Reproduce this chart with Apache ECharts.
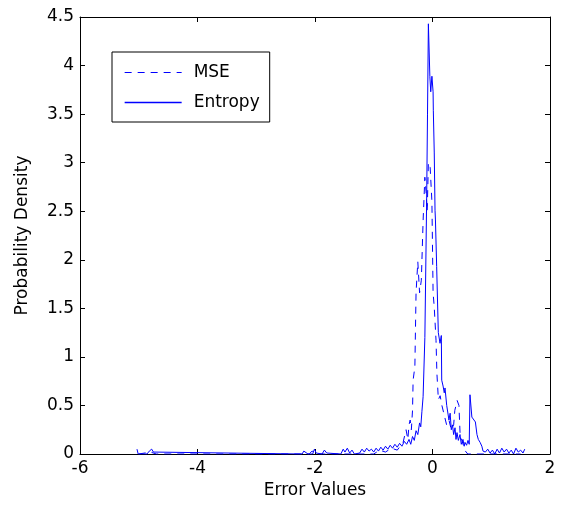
<!DOCTYPE html>
<html>
<head>
<meta charset="utf-8">
<script src="https://cdn.jsdelivr.net/npm/echarts@6/dist/echarts.min.js"></script>
<style>html,body{margin:0;padding:0;background:#fff;}#c{width:561px;height:510px;}</style>
</head>
<body>
<div id="c"></div>
<script>
// ---- data ----
const xTicks = [-6, -4, -2, 0, 2];
const yTicks = [0, 0.5, 1, 1.5, 2, 2.5, 3, 3.5, 4, 4.5];
const seriesNames = ['MSE', 'Entropy'];

const mseX = [-5.0, -4.8, -4.7, -2.1, -2.05, -1.95, -1.0, -0.9, -0.8, -0.7, -0.6, -0.55, -0.5, -0.47, -0.45, -0.42, -0.4, -0.38, -0.36, -0.34, -0.33, -0.3, -0.28, -0.25, -0.22, -0.19, -0.16, -0.13, -0.11, -0.09, -0.07, -0.04, -0.01, 0.01, 0.03, 0.06, 0.075, 0.1, 0.13, 0.16, 0.2, 0.24, 0.28, 0.32, 0.36, 0.38, 0.42, 0.45, 0.47, 0.52, 0.56, 0.6, 1.5];
const mseY = [0.0, 0.02, 0.0, 0.0, 0.03, 0.0, 0.0, 0.04, 0.02, 0.06, 0.04, 0.08, 0.12, 0.2, 0.25, 0.15, 0.3, 0.35, 0.25, 0.45, 0.76, 0.9, 1.66, 1.98, 1.66, 1.79, 2.4, 2.85, 2.7, 2.5, 3.0, 2.95, 2.6, 1.66, 1.51, 1.17, 0.83, 0.56, 0.6, 0.5, 0.4, 0.3, 0.35, 0.25, 0.3, 0.45, 0.55, 0.5, 0.2, 0.1, 0.03, 0.0, 0.0];

const entropyX = [-5.03, -5.01, -4.86, -4.82, -4.78, -4.75, -4.72, -2.22, -2.19, -2.16, -2.12, -2.04, -2.01, -1.98, -1.88, -1.84, -1.8, -1.56, -1.52, -1.49, -1.45, -1.41, -1.37, -1.33, -1.24, -1.2, -1.16, -1.12, -1.08, -1.04, -1.0, -0.96, -0.92, -0.88, -0.84, -0.8, -0.76, -0.72, -0.68, -0.64, -0.6, -0.56, -0.52, -0.48, -0.44, -0.4, -0.37, -0.34, -0.31, -0.28, -0.25, -0.22, -0.2, -0.18, -0.16, -0.13, -0.1, -0.085, -0.07, -0.045, -0.03, -0.01, 0.01, 0.014, 0.03, 0.043, 0.05, 0.071, 0.099, 0.128, 0.15, 0.157, 0.18, 0.2, 0.213, 0.242, 0.26, 0.28, 0.3, 0.32, 0.34, 0.36, 0.383, 0.4, 0.417, 0.44, 0.468, 0.49, 0.519, 0.54, 0.553, 0.58, 0.604, 0.625, 0.638, 0.66, 0.67, 0.7, 0.73, 0.757, 0.78, 0.81, 0.84, 0.86, 0.9, 0.94, 0.98, 1.02, 1.06, 1.1, 1.14, 1.18, 1.22, 1.26, 1.3, 1.34, 1.38, 1.42, 1.46, 1.5, 1.54, 1.57];
const entropyY = [0.05, 0.0, 0.0, 0.03, 0.05, 0.02, 0.0, 0.0, 0.03, 0.01, 0.0, 0.0, 0.05, 0.01, 0.0, 0.04, 0.01, 0.0, 0.05, 0.02, 0.06, 0.01, 0.04, 0.0, 0.01, 0.05, 0.02, 0.06, 0.03, 0.05, 0.02, 0.06, 0.03, 0.07, 0.04, 0.08, 0.05, 0.09, 0.06, 0.1, 0.07, 0.11, 0.08, 0.13, 0.1, 0.15, 0.1, 0.18, 0.14, 0.24, 0.2, 0.32, 0.28, 0.44, 0.59, 1.2, 2.6, 3.5, 4.43, 3.89, 3.73, 3.89, 3.73, 3.54, 3.1, 2.51, 2.41, 1.93, 1.25, 1.14, 1.22, 0.76, 0.7, 0.63, 0.68, 0.5, 0.48, 0.35, 0.42, 0.25, 0.3, 0.2, 0.27, 0.15, 0.22, 0.14, 0.2, 0.1, 0.15, 0.08, 0.12, 0.09, 0.14, 0.1, 0.61, 0.61, 0.38, 0.38, 0.33, 0.2, 0.15, 0.12, 0.08, 0.03, 0.02, 0.05, 0.01, 0.04, 0.0, 0.05, 0.01, 0.06, 0.02, 0.05, 0.01, 0.04, 0.0, 0.06, 0.02, 0.04, 0.01, 0.05];

// ---- chart ----
const FONT = 'DejaVu Sans';
const BLUE = '#0000ff';
const zip = (xs, ys) => xs.map((x, i) => [x, ys[i]]);
const chart = echarts.init(document.getElementById('c'), null, {renderer: 'canvas'});

const axisCommon = {
  axisLine: {show: true, onZero: false, lineStyle: {color: '#000', width: 1}},
  axisTick: {show: true, inside: true, length: 5, lineStyle: {color: '#000'}},
  splitLine: {show: false}
};

chart.setOption({
  animation: false,
  backgroundColor: '#fff',
  grid: {left: 80, right: 11, top: 17, bottom: 56},
  legend: {
    orient: 'vertical', left: 112, top: 52,
    padding: [12, 10, 11, 12], itemGap: 13, itemWidth: 57, itemHeight: 14,
    borderColor: '#000', borderWidth: 1, borderRadius: 0, backgroundColor: '#fff',
    itemStyle: {opacity: 0},
    textStyle: {fontSize: 17, color: '#000', fontFamily: FONT, padding: [0, 0, 0, 7]},
    data: [
      {name: seriesNames[0], lineStyle: {width: 1, color: BLUE, type: [7, 6]}},
      {name: seriesNames[1], lineStyle: {width: 1.3, color: BLUE, type: 'solid'}}
    ]
  },
  xAxis: [
    Object.assign({}, axisCommon, {
      type: 'value', min: xTicks[0], max: xTicks[xTicks.length - 1], interval: 2,
      position: 'bottom',
      name: 'Error Values', nameLocation: 'middle', nameGap: 27,
      nameTextStyle: {fontSize: 17, color: '#000', fontFamily: FONT},
      axisLabel: {fontSize: 17, color: '#000', fontFamily: FONT, margin: 6}
    }),
    Object.assign({}, axisCommon, {
      type: 'value', min: xTicks[0], max: xTicks[xTicks.length - 1], interval: 2,
      position: 'top', axisLabel: {show: false}
    })
  ],
  yAxis: [
    Object.assign({}, axisCommon, {
      type: 'value', min: yTicks[0], max: yTicks[yTicks.length - 1], interval: 0.5,
      position: 'left',
      name: 'Probability Density', nameLocation: 'middle', nameGap: 49, nameRotate: 90,
      nameTextStyle: {fontSize: 17, color: '#000', fontFamily: FONT},
      axisLabel: {fontSize: 17, color: '#000', fontFamily: FONT, margin: 6}
    }),
    Object.assign({}, axisCommon, {
      type: 'value', min: yTicks[0], max: yTicks[yTicks.length - 1], interval: 0.5,
      position: 'right', axisLabel: {show: false}
    })
  ],
  series: [
    {
      name: seriesNames[0], type: 'line', xAxisIndex: 0, yAxisIndex: 0,
      data: zip(mseX, mseY), symbol: 'none', showSymbol: false,
      lineStyle: {color: BLUE, width: 1, type: [7, 6]},
      itemStyle: {color: BLUE}
    },
    {
      name: seriesNames[1], type: 'line', xAxisIndex: 0, yAxisIndex: 0,
      data: zip(entropyX, entropyY), symbol: 'none', showSymbol: false,
      lineStyle: {color: BLUE, width: 1},
      itemStyle: {color: BLUE}
    }
  ]
});
</script>
</body>
</html>
